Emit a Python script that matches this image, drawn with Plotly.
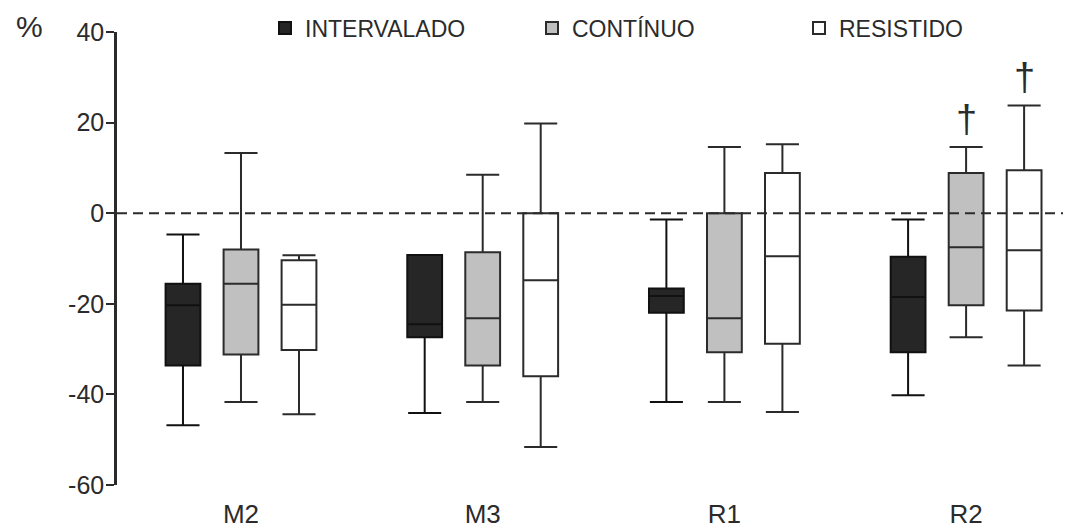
import plotly.graph_objects as go

categories = ["M2", "M3", "R1", "R2"]
series_names = ["INTERVALADO", "CONTÍNUO", "RESISTIDO"]

# Box statistics per series (M2, M3, R1, R2)
interv_low = [-46.8, -44.1, -41.7, -40.2]
interv_q1 = [-33.6, -27.4, -22.0, -30.7]
interv_med = [-20.3, -24.5, -18.3, -18.5]
interv_q3 = [-15.6, -9.2, -16.6, -9.6]
interv_high = [-4.7, -9.2, -1.4, -1.4]

cont_low = [-41.7, -41.7, -41.7, -27.4]
cont_q1 = [-31.2, -33.6, -30.7, -20.3]
cont_med = [-15.6, -23.2, -23.2, -7.5]
cont_q3 = [-8.0, -8.6, 0.0, 8.9]
cont_high = [13.3, 8.5, 14.6, 14.6]

resist_low = [-44.4, -51.6, -43.9, -33.6]
resist_q1 = [-30.2, -36.0, -28.8, -21.5]
resist_med = [-20.2, -14.8, -9.5, -8.2]
resist_q3 = [-10.4, 0.0, 8.9, 9.5]
resist_high = [-9.3, 19.8, 15.2, 23.8]

y_ticks = [-60, -40, -20, 0, 20, 40]
y_tick_labels = ["-60", "-40", "-20", "0", "20", "40"]
dagger_marks = [("R2", "CONTÍNUO"), ("R2", "RESISTIDO")]

fills = ["#262626", "#c0c0c0", "#ffffff"]
stats = [
    (interv_low, interv_q1, interv_med, interv_q3, interv_high),
    (cont_low, cont_q1, cont_med, cont_q3, cont_high),
    (resist_low, resist_q1, resist_med, resist_q3, resist_high),
]

FONT = "Liberation Sans, Arial, sans-serif"
INK = "#2b2b2b"
BOXGAP = 0.28
GROUPGAP = 0.4

# page has an 8px body margin; plot area targeted at x 117..1071, y 32..485
ML, MR, MT, MB = 109, 8, 24, 54
PW = 1071 - ML - MR
PH = 531 - MT - MB

fig = go.Figure()
for name, fill, (lo, q1, med, q3, hi) in zip(series_names, fills, stats):
    fig.add_trace(go.Box(
        x=categories, q1=q1, median=med, q3=q3,
        lowerfence=lo, upperfence=hi,
        name=name, fillcolor=fill,
        line=dict(color="#111111" if fill == "#262626" else INK, width=2),
        whiskerwidth=0.95, boxpoints=False,
    ))

# zero reference line
fig.add_shape(type="line", xref="paper", x0=0, x1=1, yref="y", y0=0, y1=0,
              line=dict(color=INK, width=2, dash="10px,6px"), layer="above")

# daggers above whiskers
slot = (1 - BOXGAP) / len(series_names)
for cat, ser in dagger_marks:
    ci = categories.index(cat)
    si = series_names.index(ser)
    xpos = ci + (si - (len(series_names) - 1) / 2) * slot
    top = stats[si][4][ci]
    fig.add_annotation(x=xpos, y=top, xref="x", yref="y", text="†",
                       showarrow=False, yanchor="bottom", yshift=5,
                       font=dict(size=38, color=INK, family=FONT))

fig.add_annotation(xref="paper", yref="paper", text="%",
                   x=(29 - 117) / PW, y=1 + (32 - 27) / PH,
                   xanchor="center", yanchor="middle", showarrow=False,
                   font=dict(size=30, color=INK, family=FONT))

fig.update_layout(
    width=1071, height=531,
    margin=dict(l=ML, r=MR, t=MT, b=MB, autoexpand=False),
    paper_bgcolor="white", plot_bgcolor="white",
    boxmode="group", boxgap=BOXGAP, boxgroupgap=GROUPGAP,
    font=dict(family=FONT, size=22, color=INK),
    showlegend=True,
    legend=dict(orientation="h", x=(265 - 117) / PW, xanchor="left",
                y=1 + (32 - 28) / PH, yanchor="middle",
                entrywidth=222, entrywidthmode="pixels",
                font=dict(size=23, color=INK, family=FONT),
                bgcolor="rgba(0,0,0,0)"),
    xaxis=dict(type="category", range=[-0.513, 3.434], showline=False,
               showgrid=False, zeroline=False, ticks="",
               ticklabelstandoff=11,
               tickfont=dict(size=26, color=INK, family=FONT)),
    yaxis=dict(range=[-60, 40], tickvals=y_ticks, ticktext=y_tick_labels,
               showline=True,
               linecolor=INK, linewidth=2.5, ticks="outside", ticklen=8,
               tickwidth=2, tickcolor=INK, showgrid=False, zeroline=False,
               ticklabelstandoff=-3,
               tickfont=dict(size=25, color=INK, family=FONT)),
)

fig.write_html("out.html")
